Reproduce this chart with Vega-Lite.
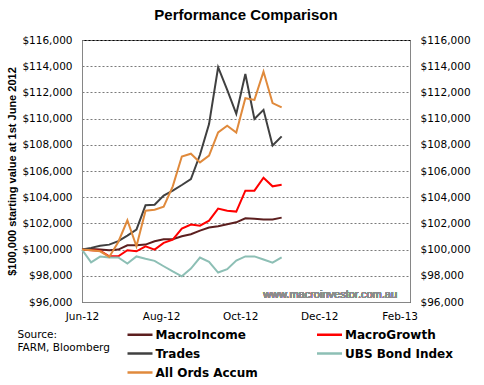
{
"$schema": "https://vega.github.io/schema/vega-lite/v6.json",
"width": 328, "height": 262,
"autosize": {"type": "none"},
"padding": {"left": 82, "top": 40, "right": 74, "bottom": 83},
"background": "white",
"title": {"text": "Performance Comparison", "font": "Liberation Sans", "fontSize": 15, "fontWeight": "bold", "color": "#000", "anchor": "middle", "offset": 12},
"config": {
  "view": {"stroke": "#000", "strokeWidth": 1},
  "axis": {"labelFont": "DejaVu Sans", "labelFontSize": 10.5, "labelColor": "#000", "domainColor": "#868686", "ticks": false}
},
"data": {"values": [
{"d":"2012-06-01","MacroIncome":100000,"MacroGrowth":100000,"Trades":100000,"UBS Bond Index":100000,"All Ords Accum":100000},
{"d":"2012-06-08","MacroIncome":100050,"MacroGrowth":99950,"Trades":100130,"UBS Bond Index":99030,"All Ords Accum":99950},
{"d":"2012-06-15","MacroIncome":100000,"MacroGrowth":99920,"Trades":100300,"UBS Bond Index":99470,"All Ords Accum":99870},
{"d":"2012-06-22","MacroIncome":99950,"MacroGrowth":99490,"Trades":100380,"UBS Bond Index":99400,"All Ords Accum":99440},
{"d":"2012-06-29","MacroIncome":100000,"MacroGrowth":99490,"Trades":100640,"UBS Bond Index":99400,"All Ords Accum":100580},
{"d":"2012-07-06","MacroIncome":100330,"MacroGrowth":99950,"Trades":101070,"UBS Bond Index":98930,"All Ords Accum":102240},
{"d":"2012-07-13","MacroIncome":100330,"MacroGrowth":99870,"Trades":101530,"UBS Bond Index":99480,"All Ords Accum":100250},
{"d":"2012-07-20","MacroIncome":100380,"MacroGrowth":100250,"Trades":103380,"UBS Bond Index":99300,"All Ords Accum":102970},
{"d":"2012-07-27","MacroIncome":100640,"MacroGrowth":100000,"Trades":103430,"UBS Bond Index":99140,"All Ords Accum":103050},
{"d":"2012-08-03","MacroIncome":100790,"MacroGrowth":100510,"Trades":104120,"UBS Bond Index":98730,"All Ords Accum":103280},
{"d":"2012-08-10","MacroIncome":100790,"MacroGrowth":100760,"Trades":104500,"UBS Bond Index":98330,"All Ords Accum":104830},
{"d":"2012-08-17","MacroIncome":101020,"MacroGrowth":101600,"Trades":104930,"UBS Bond Index":97960,"All Ords Accum":107110},
{"d":"2012-08-24","MacroIncome":101170,"MacroGrowth":101910,"Trades":105390,"UBS Bond Index":98550,"All Ords Accum":107320},
{"d":"2012-08-31","MacroIncome":101450,"MacroGrowth":101830,"Trades":107240,"UBS Bond Index":99390,"All Ords Accum":106660},
{"d":"2012-09-07","MacroIncome":101680,"MacroGrowth":102210,"Trades":109580,"UBS Bond Index":99070,"All Ords Accum":107170},
{"d":"2012-09-14","MacroIncome":101780,"MacroGrowth":103130,"Trades":113920,"UBS Bond Index":98250,"All Ords Accum":108940},
{"d":"2012-09-21","MacroIncome":101930,"MacroGrowth":102970,"Trades":112190,"UBS Bond Index":98500,"All Ords Accum":109450},
{"d":"2012-09-28","MacroIncome":102080,"MacroGrowth":102900,"Trades":110360,"UBS Bond Index":99160,"All Ords Accum":108940},
{"d":"2012-10-05","MacroIncome":102390,"MacroGrowth":104500,"Trades":113410,"UBS Bond Index":99480,"All Ords Accum":111560},
{"d":"2012-10-12","MacroIncome":102360,"MacroGrowth":104500,"Trades":109980,"UBS Bond Index":99480,"All Ords Accum":111430},
{"d":"2012-10-19","MacroIncome":102290,"MacroGrowth":105490,"Trades":110670,"UBS Bond Index":99240,"All Ords Accum":113590},
{"d":"2012-10-26","MacroIncome":102290,"MacroGrowth":104830,"Trades":107950,"UBS Bond Index":99000,"All Ords Accum":111180},
{"d":"2012-11-02","MacroIncome":102440,"MacroGrowth":104950,"Trades":108640,"UBS Bond Index":99410,"All Ords Accum":110850}
]},
"layer": [
  {
    "transform": [{"fold": ["MacroIncome","MacroGrowth","Trades","UBS Bond Index","All Ords Accum"], "as": ["s","v"]}],
    "mark": {"type": "line", "strokeWidth": 2},
    "encoding": {
      "x": {"field": "d", "type": "temporal",
        "scale": {"type": "utc", "domain": [{"year":2012,"month":6,"date":1,"utc":true},{"year":2013,"month":2,"date":9,"utc":true}]},
        "axis": {"values": [{"year":2012,"month":6,"date":1,"utc":true},{"year":2012,"month":8,"date":1,"utc":true},{"year":2012,"month":10,"date":1,"utc":true},{"year":2012,"month":12,"date":1,"utc":true},{"year":2013,"month":2,"date":1,"utc":true}],
          "format": "%b-%y", "grid": false, "labelPadding": 9, "labelFlush": false,
          "title": ["Source:", "\u00a0FARM, Bloomberg"], "titleFont": "DejaVu Sans", "titleFontSize": 10.5, "titleFontWeight": "normal", "titleColor": "#000",
          "titleAlign": "left", "titleBaseline": "top", "titleX": -65, "titleY": 27, "titleLineHeight": 13}},
      "y": {"field": "v", "type": "quantitative",
        "scale": {"domain": [96000,116000], "nice": false, "zero": false},
        "axis": {"orient": "left", "values": [96000,98000,100000,102000,104000,106000,108000,110000,112000,114000,116000],
          "format": "$,.0f", "grid": true, "gridDash": [2,2], "gridColor": "#7a7a7a", "labelPadding": 10,
          "title": "$100,000 starting value at 1st June 2012", "titleFont": "Liberation Sans", "titleFontSize": 11, "titleFontWeight": "bold", "titleColor": "#000",
          "titleBaseline": "middle", "titleX": -70, "titleY": 131}},
      "color": {"field": "s", "type": "nominal",
        "scale": {"domain": ["MacroIncome","MacroGrowth","Trades","UBS Bond Index","All Ords Accum"], "range": ["#5C1F1F","#FF0000","#404040","#8DBFB5","#E08A3C"]},
        "legend": {"orient": "none", "direction": "horizontal", "legendX": 51.5, "legendY": 288, "columns": 2, "title": null, "symbolType": "M-2.5,0H2.5", "symbolSize": 100, "symbolStrokeWidth": 2.5,
          "labelFont": "DejaVu Sans", "labelFontWeight": "bold", "labelFontSize": 12, "labelColor": "#000", "columnPadding": 53.5, "rowPadding": 6, "labelOffset": 9, "padding": 0}}
    }
  },
  {
    "mark": {"type": "text", "align": "right", "baseline": "middle", "font": "Liberation Sans", "fontSize": 11, "color": "#8c8c8c"},
    "encoding": {
      "x": {"datum": {"year":2013,"month":1,"date":30,"utc":true}, "type": "temporal",
        "axis": {"values": [{"year":2012,"month":6,"date":1,"utc":true},{"year":2012,"month":8,"date":1,"utc":true},{"year":2012,"month":10,"date":1,"utc":true},{"year":2012,"month":12,"date":1,"utc":true},{"year":2013,"month":2,"date":1,"utc":true}],
          "format": "%b-%y", "grid": false, "labelPadding": 9, "labelFlush": false,
          "title": ["Source:", "\u00a0FARM, Bloomberg"], "titleFont": "DejaVu Sans", "titleFontSize": 10.5, "titleFontWeight": "normal", "titleColor": "#000",
          "titleAlign": "left", "titleBaseline": "top", "titleX": -65, "titleY": 27, "titleLineHeight": 13}},
      "y": {"datum": 96530, "type": "quantitative",
        "axis": {"orient": "right", "values": [96000,98000,100000,102000,104000,106000,108000,110000,112000,114000,116000], "format": "$,.0f", "grid": false, "labelPadding": 10, "title": null}},
      "text": {"value": "www.macroinvestor.com.au"}
    }
  }
],
"resolve": {"axis": {"y": "independent"}}
}
